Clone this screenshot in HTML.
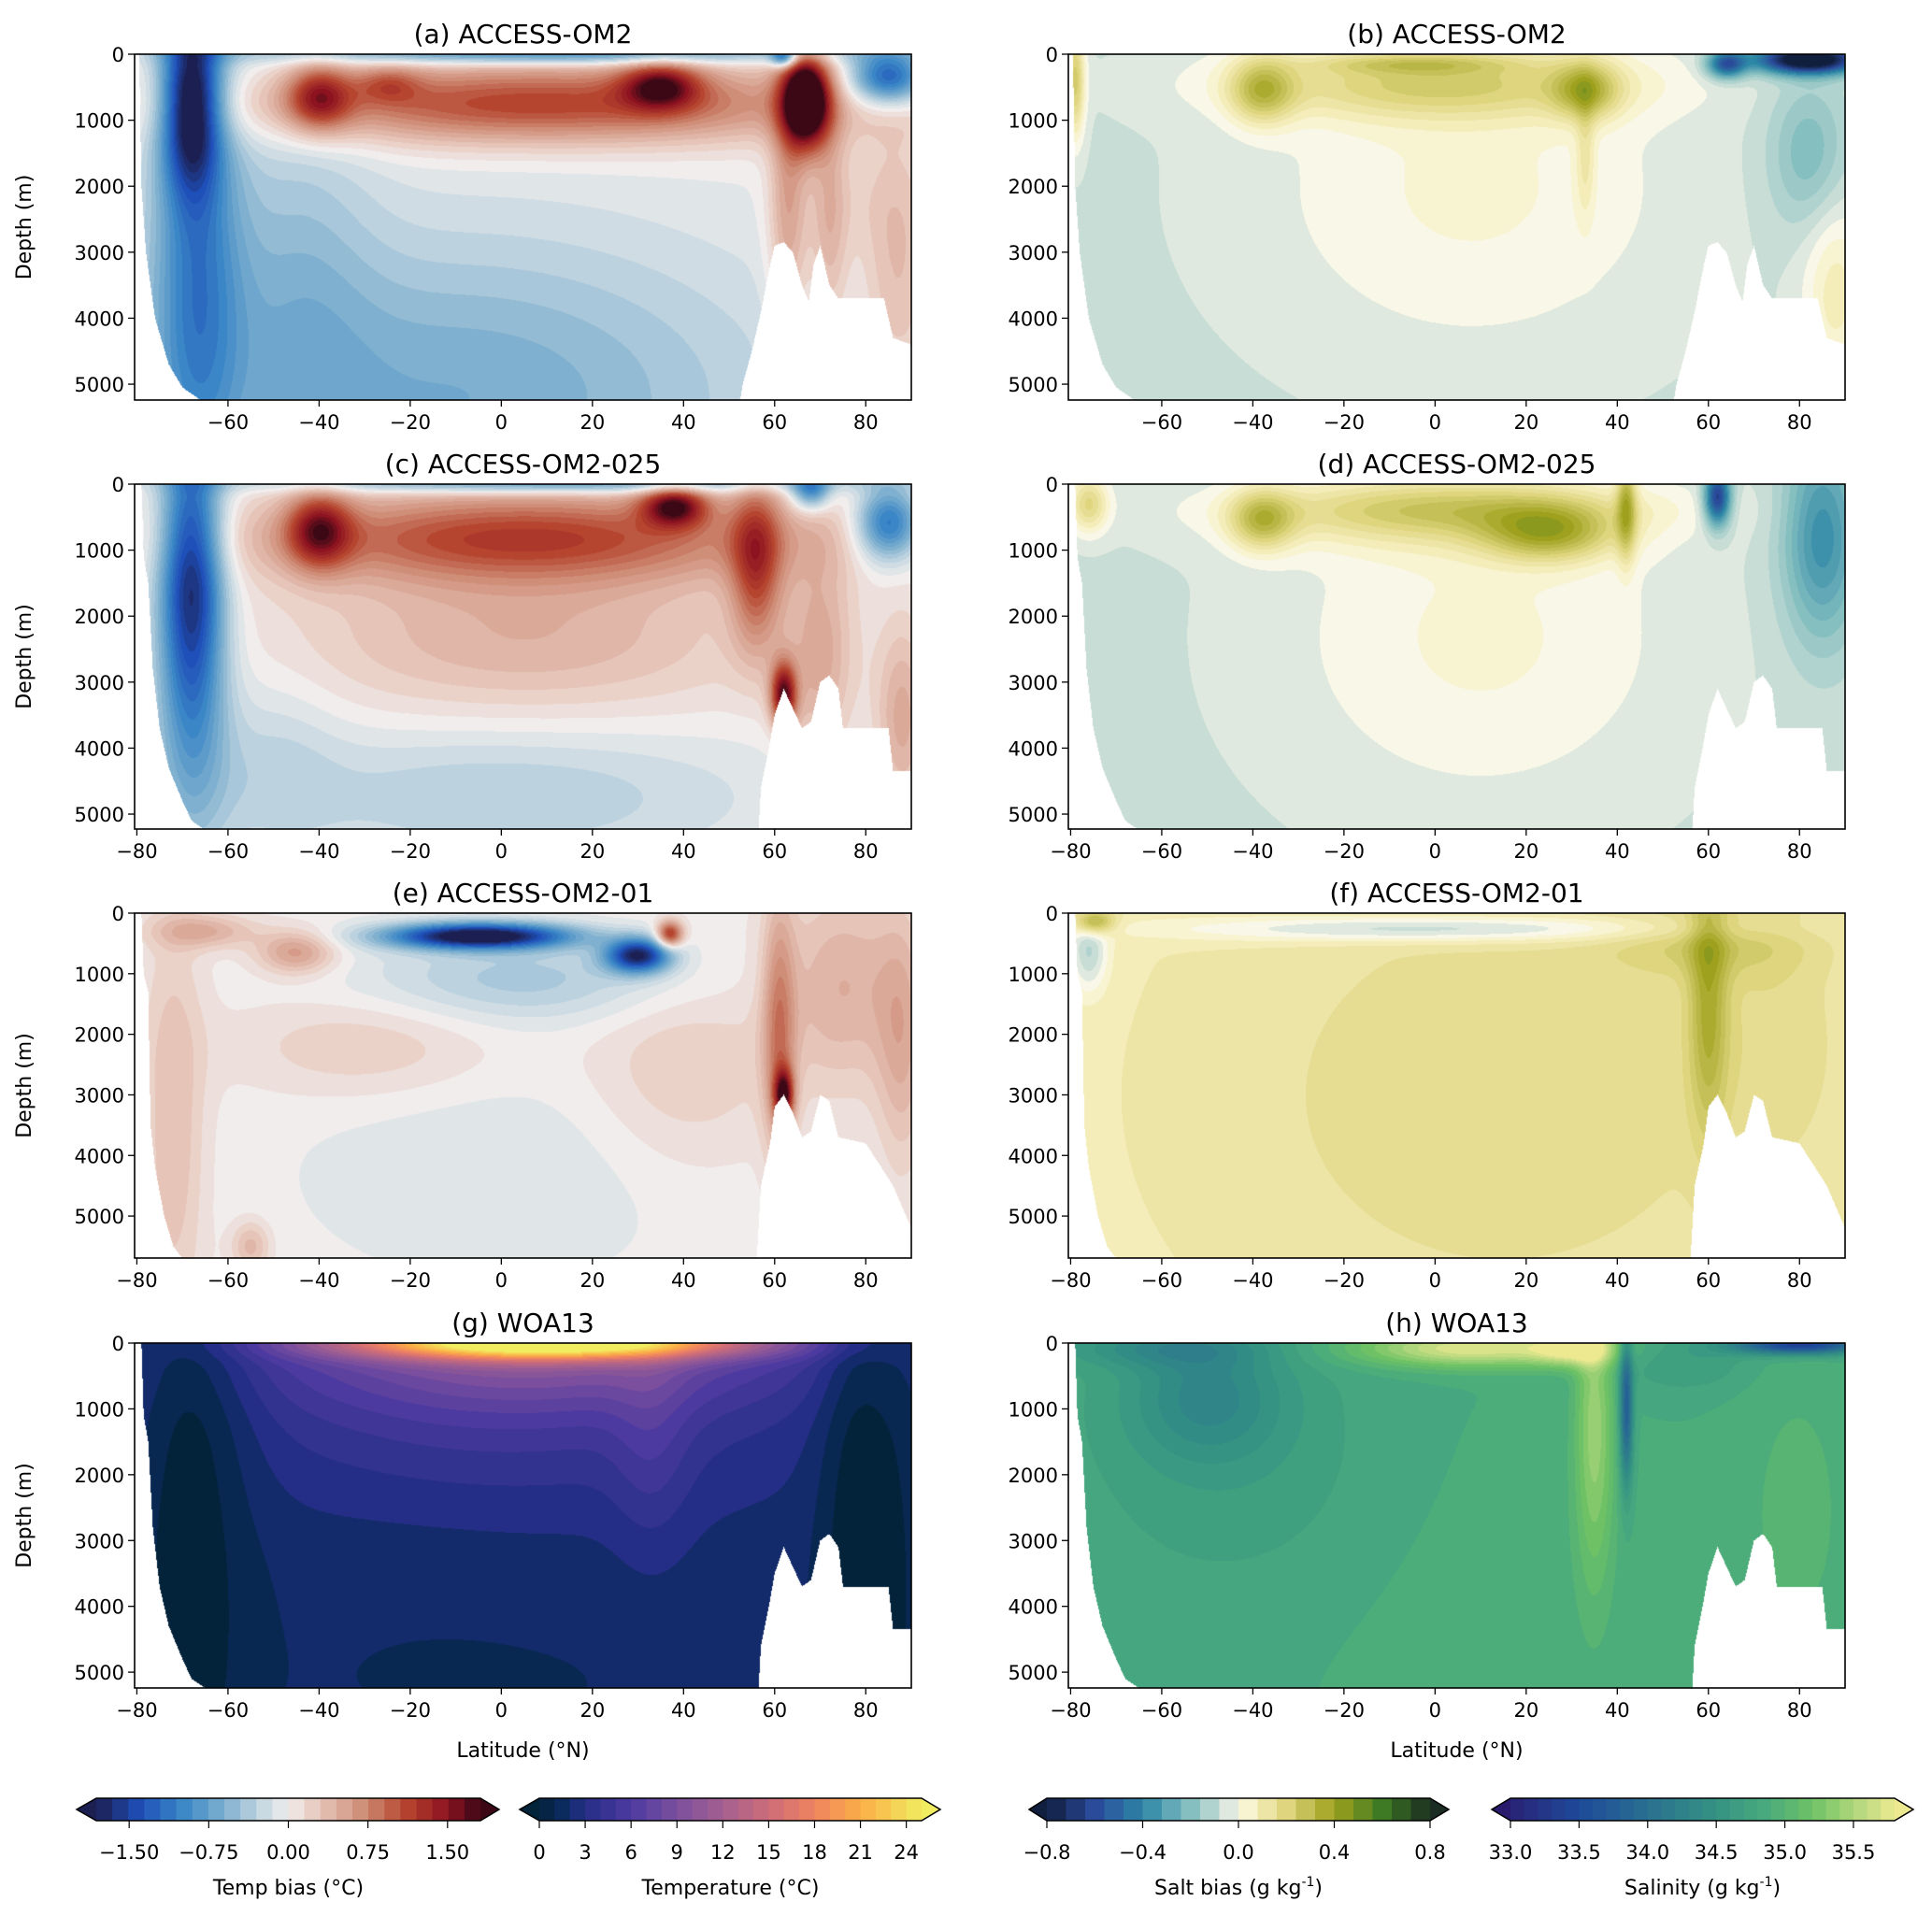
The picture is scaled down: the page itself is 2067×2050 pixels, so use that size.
<!DOCTYPE html>
<html><head><meta charset="utf-8">
<style>
html,body{margin:0;padding:0;background:#fff;}
body{width:2067px;height:2050px;position:relative;overflow:hidden;font-family:"DejaVu Sans","Liberation Sans",sans-serif;}
canvas{position:absolute;}
svg{position:absolute;left:0;top:0;}
</style></head>
<body>
<div id="root"></div>
<svg id="ov" width="2067" height="2050"></svg>
<script>
// ---------------- data ----------------
const panelTitles = ["(a) ACCESS-OM2","(b) ACCESS-OM2","(c) ACCESS-OM2-025","(d) ACCESS-OM2-025","(e) ACCESS-OM2-01","(f) ACCESS-OM2-01","(g) WOA13","(h) WOA13"];
const rowDepthMax = [5240,5226,5693,5240];
const latMin = -80.5, latMax = 90;
const latTicks = [-80,-60,-40,-20,0,20,40,60,80];
const depthTicks = [0,1000,2000,3000,4000,5000];
// bathymetry masks: [lat, bottom depth]
const maskA = [[-81,0],[-79.5,0],[-79,2000],[-78,3000],[-76,4000],[-73,4700],[-70,5050],[-66,5240],[-63,5400],[52,5400],[53,5000],[55,4500],[57,3900],[59,3200],[60,2900],[62,2850],[64,3000],[66,3500],[67.5,3750],[68.5,3200],[70,2900],[72,3500],[74,3700],[84,3700],[86,4300],[90,4400]];
const maskB = [[-81,0],[-79,0],[-78.5,1100],[-77.5,1500],[-76.5,2800],[-75,3700],[-73,4300],[-70,4800],[-68,5100],[-65,5240],[-64,5800],[56,5800],[57,4600],[59,3900],[60,3500],[62,3100],[64,3400],[66,3700],[68,3600],[70,3000],[72,2900],[74,3100],[75,3700],[85,3700],[86,4350],[90,4350]];
const maskE = [[-81,0],[-79,0],[-78.5,1000],[-77.5,1300],[-77,3500],[-76,4200],[-74,5000],[-72,5500],[-70,5700],[-60,5800],[56,5800],[57,4500],[59,3800],[60,3200],[62,3000],[64,3300],[66,3700],[68,3600],[70,3000],[72,3100],[74,3700],[80,3800],[86,4500],[90,5200]];
// blobs: [lat, depth, sigmaLat, sigmaDepth, amplitude]
const blobsA = [[-68,700,4.5,900,-1.6],[-67,3000,7,2600,-0.9],[-10,5200,50,1800,-0.65],[-45,3000,12,2000,-0.3],[8,750,45,420,1.15],[-40,650,5,350,1.1],[-25,450,5,200,0.5],[35,480,6,250,1.2],[67,700,3.5,500,2.2],[63,2300,3,1500,0.6],[72,2600,3,1300,0.45],[87,3400,6,1500,0.4],[85,350,6,300,-1.4],[62,40,2,120,-1.2],[10,0,40,110,-1.0],[80,2200,8,600,0.1]];
const blobsC = [[-68,1300,5,1500,-1.6],[-68,3800,6,1500,-0.5],[5,800,40,480,1.1],[-40,700,5,400,1.2],[38,330,5,220,1.4],[56,1200,4,900,1.0],[5,2300,35,900,0.45],[0,4700,40,800,-0.35],[-50,4200,10,1000,-0.2],[85,600,5,400,-1.2],[62,3200,2,350,1.6],[70,2600,5,1200,0.45],[88,3600,4,1000,0.5],[10,0,40,100,-0.9],[68,100,3,200,-1.0]];
const blobsE = [[-5,380,14,150,-2.0],[30,700,5,200,-1.7],[5,1100,25,500,-0.4],[-45,650,6,250,0.6],[-65,300,8,200,0.45],[37,350,2,150,1.3],[61,2000,2.5,1500,0.7],[62,3000,1.5,300,1.4],[75,1200,10,1200,0.45],[88,2200,4,1500,0.4],[-72,3500,5,2500,0.35],[-30,2200,20,600,0.25],[40,2600,15,1200,0.25],[0,4300,30,1200,-0.15],[-55,5500,3,300,0.4]];
const blobsG = [[10,0,30,170,20],[8,0,40,650,6],[0,700,45,1300,3.2],[-70,3000,7,5000,-1.9],[-60,4500,8,2000,-0.6],[-62,600,8,1500,-1.2],[78,2500,6,6000,-2.4],[88,2500,5,6000,-1.0],[33,1500,6,1200,1.8],[0,5200,30,600,-0.4],[-20,3800,30,1400,-0.3]];
const blobsB = [[8,2000,32,1800,0.1],[0,450,30,380,0.25],[-38,550,5,350,0.3],[33,550,5,300,0.3],[-5,150,15,100,0.15],[82,80,8,150,-0.9],[64,150,3,150,-0.5],[82,1500,6,800,-0.15],[-79,400,1.5,600,0.3],[88,3600,5,1000,0.15],[33,1500,1.5,700,0.12]];
const blobsD = [[10,2300,30,1800,0.1],[0,450,30,380,0.2],[-38,550,5,320,0.3],[25,750,10,300,0.32],[5,350,30,250,0.1],[42,300,1.5,600,0.3],[85,800,6,1100,-0.3],[62,200,2,300,-0.6],[-76,300,3,300,0.25]];
const blobsF = [[15,3000,40,2500,0.09],[60,1500,3,1500,0.22],[0,260,40,150,-0.2],[-76,600,3,500,-0.2],[-75,150,3,150,0.35],[60,500,15,400,0.12],[75,2000,10,1500,0.06]];
const blobsH = [[-50,800,12,700,-0.45],[-40,2000,25,1500,-0.15],[8,80,18,200,0.9],[30,80,6,180,0.7],[35,1200,3,1700,0.55],[42,1000,1,800,-1.1],[80,30,10,100,-1.5],[-60,80,15,200,-0.35],[80,2500,10,2000,0.15],[55,300,10,300,-0.2],[10,3500,40,2500,0.08]];
const baseVals = [0, -0.07, 0, -0.07, 0, 0.09, 1.9, 34.82];
// colorbar ticks
const cbTicks1 = [-1.5,-0.75,0,0.75,1.5], cbLab1 = ["−1.50","−0.75","0.00","0.75","1.50"];
const cbTicks2 = [0,3,6,9,12,15,18,21,24];
const cbTicks3 = [-0.8,-0.4,0,0.4,0.8], cbLab3 = ["−0.8","−0.4","0.0","0.4","0.8"];
const cbTicks4 = [33,33.5,34,34.5,35,35.5], cbLab4 = ["33.0","33.5","34.0","34.5","35.0","35.5"];

// ---------------- colormaps ----------------
function hx(c){return [parseInt(c.substr(1,2),16),parseInt(c.substr(3,2),16),parseInt(c.substr(5,2),16)];}
function mk(stops){const s=stops.map(a=>[a[0],hx(a[1])]);return v=>{if(v<=s[0][0])return s[0][1];for(let i=1;i<s.length;i++){if(v<=s[i][0]){const t=(v-s[i-1][0])/(s[i][0]-s[i-1][0]);const a=s[i-1][1],b=s[i][1];return [a[0]+(b[0]-a[0])*t,a[1]+(b[1]-a[1])*t,a[2]+(b[2]-a[2])*t];}}return s[s.length-1][1];};}
const cmBal = mk([[-1.8,'#1c1f52'],[-1.4,'#1f4fb8'],[-1.0,'#3a86c6'],[-0.6,'#7fb0cf'],[-0.25,'#c6d8e2'],[0,'#f1edec'],[0.3,'#e6c4b8'],[0.7,'#cf8e78'],[1.1,'#b6452f'],[1.5,'#8d1320'],[1.8,'#3c0816']]);
const cmThe = mk([[0,'#03233a'],[1.5,'#0b2a5e'],[3,'#252e86'],[6,'#4c3aa0'],[9,'#7b4f9e'],[12,'#a4608f'],[15,'#cd6c7a'],[18,'#ef8460'],[21,'#fbae47'],[25,'#f2ec60']]);
const cmDel = mk([[-0.8,'#111f3f'],[-0.6,'#2a4a9a'],[-0.4,'#2c86a6'],[-0.2,'#86bfc0'],[-0.06,'#d2e2da'],[0,'#f9f8e8'],[0.06,'#f7f1c4'],[0.2,'#dfd57e'],[0.4,'#9ea11d'],[0.6,'#3d7a23'],[0.8,'#1b2d22']]);
const cmHal = mk([[32.9,'#2a1a6e'],[33.5,'#1e4a9a'],[34,'#2a7090'],[34.5,'#349383'],[34.85,'#48a97e'],[35.2,'#6ec265'],[35.8,'#ede991']]);

// ---------------- layout ----------------
const colX = [[144,975],[1143,1974]];
const rowY = [[58,428],[518,887],[977,1346],[1437,1806]];
const NS='http://www.w3.org/2000/svg';
const ov=document.getElementById('ov');
const FF='DejaVu Sans, Liberation Sans, sans-serif';
function sv(tag,attrs,parent){const e=document.createElementNS(NS,tag);for(const k in attrs)e.setAttribute(k,attrs[k]);(parent||ov).appendChild(e);return e;}
function txt(x,y,s,size,anchor,parent){const t=sv('text',{x:x,y:y,'font-size':size,'text-anchor':anchor||'middle','font-family':FF,fill:'#000'},parent);t.textContent=s;return t;}
function interpMask(m,lat){if(lat<=m[0][0])return m[0][1];for(let i=1;i<m.length;i++){if(lat<=m[i][0]){const t=(lat-m[i-1][0])/(m[i][0]-m[i-1][0]);return m[i-1][1]+(m[i][1]-m[i-1][1])*t;}}return m[m.length-1][1];}

const panels=[
 {blobs:blobsA,mask:maskA,cm:cmBal,step:0.1,skip80:true},
 {blobs:blobsB,mask:maskA,cm:cmDel,step:0.04,skip80:true},
 {blobs:blobsC,mask:maskB,cm:cmBal,step:0.1},
 {blobs:blobsD,mask:maskB,cm:cmDel,step:0.04},
 {blobs:blobsE,mask:maskE,cm:cmBal,step:0.1},
 {blobs:blobsF,mask:maskE,cm:cmDel,step:0.04},
 {blobs:blobsG,mask:maskB,cm:cmThe,step:1},
 {blobs:blobsH,mask:maskB,cm:cmHal,step:0.1}
];
const names=['temp-bias-om2','salt-bias-om2','temp-bias-om2-025','salt-bias-om2-025','temp-bias-om2-01','salt-bias-om2-01','temperature-woa13','salinity-woa13'];

panels.forEach((p,i)=>{
  const r=Math.floor(i/2), c=i%2;
  const x0=colX[c][0],x1=colX[c][1],y0=rowY[r][0],y1=rowY[r][1];
  const dmax=rowDepthMax[r];
  const W=x1-x0,H=y1-y0;
  const xs=lat=>x0+(lat-latMin)/(latMax-latMin)*W;
  const ys=d=>y0+d/dmax*H;
  const cv=document.createElement('canvas');
  cv.width=W;cv.height=H;cv.style.left=x0+'px';cv.style.top=y0+'px';
  
  
  document.body.insertBefore(cv,ov);
  const ctx=cv.getContext('2d');const img=ctx.createImageData(W,H);const d=img.data;
  const bl=p.blobs;
  for(let px=0;px<W;px++){
    const lat=latMin+(px+0.5)/W*(latMax-latMin);
    const bot=interpMask(p.mask,lat);
    const gl=bl.map(b=>b[4]*Math.exp(-0.5*((lat-b[0])/b[2])**2));
    for(let py=0;py<H;py++){
      const dep=(py+0.5)/H*dmax;const k=(py*W+px)*4;
      if(dep>bot){d[k]=255;d[k+1]=255;d[k+2]=255;d[k+3]=255;continue;}
      let v=baseVals[i];
      for(let j=0;j<bl.length;j++){v+=gl[j]*Math.exp(-0.5*((dep-bl[j][1])/bl[j][3])**2);}
      v=Math.round(v/p.step)*p.step;
      const col=p.cm(v);d[k]=col[0];d[k+1]=col[1];d[k+2]=col[2];d[k+3]=255;
    }
  }
  ctx.putImageData(img,0,0);
  const g=sv('g',{});
  
  
  sv('rect',{x:x0,y:y0,width:W,height:H,fill:'none',stroke:'#000','stroke-width':1.6},g);
  const tt=txt((x0+x1)/2,y0-12,panelTitles[i],28,'middle',g);
  
  
  depthTicks.forEach(dv=>{const y=ys(dv);sv('line',{x1:x0-7,x2:x0,y1:y,y2:y,stroke:'#000','stroke-width':1.3},g);txt(x0-11,y+8,String(dv),21,'end',g);});
  latTicks.forEach(lv=>{if(p.skip80&&lv===-80)return;const x=xs(lv);sv('line',{x1:x,x2:x,y1:y1,y2:y1+7,stroke:'#000','stroke-width':1.3},g);txt(x,y1+31,(lv<0?'−':'')+Math.abs(lv),21,'middle',g);});
  if(c===0){const yl=txt(0,0,'Depth (m)',22,'middle',g);yl.setAttribute('transform','translate(33,'+((y0+y1)/2)+') rotate(-90)');}
  if(r===3){const xl=txt((x0+x1)/2,y1+74,'Latitude (°N)',22,'middle',g);}
});

// ---------------- colorbars ----------------
const cbs=[
 {tip0:82,b0:103,b1:514,tip1:534,vmin:-1.81,vmax:1.81,cm:cmBal,n:24,ticks:cbTicks1,labs:cbLab1,label:'Temp bias (°C)',name:'temp-bias-colorbar'},
 {tip0:556,b0:577,b1:986,tip1:1006,vmin:0,vmax:25,cm:cmThe,n:25,ticks:cbTicks2,labs:cbTicks2.map(String),label:'Temperature (°C)',name:'temperature-colorbar'},
 {tip0:1101,b0:1120,b1:1530,tip1:1550,vmin:-0.8,vmax:0.8,cm:cmDel,n:20,ticks:cbTicks3,labs:cbLab3,label:'Salt bias (g kg',name:'salt-bias-colorbar'},
 {tip0:1596,b0:1616,b1:2027,tip1:2047,vmin:33,vmax:35.8,cm:cmHal,n:28,ticks:cbTicks4,labs:cbLab4,label:'Salinity (g kg',name:'salinity-colorbar'}
];
const cy0=1924,cy1=1948;
cbs.forEach(cb=>{
  const g=sv('g',{});
  
  
  const xs=v=>cb.b0+(v-cb.vmin)/(cb.vmax-cb.vmin)*(cb.b1-cb.b0);
  const rgb=c=>'rgb('+c.map(Math.round).join(',')+')';
  const st=(cb.vmax-cb.vmin)/cb.n;
  for(let k=0;k<cb.n;k++){const v0=cb.vmin+k*st;sv('rect',{x:xs(v0),y:cy0,width:xs(v0+st)-xs(v0)+0.6,height:cy1-cy0,fill:rgb(cb.cm(v0+st/2))},g);}
  const ym=(cy0+cy1)/2;
  sv('polygon',{points:`${cb.b0},${cy0} ${cb.tip0},${ym} ${cb.b0},${cy1}`,fill:rgb(cb.cm(cb.vmin-1))},g);
  sv('polygon',{points:`${cb.b1},${cy0} ${cb.tip1},${ym} ${cb.b1},${cy1}`,fill:rgb(cb.cm(cb.vmax+1))},g);
  sv('polygon',{points:`${cb.b0},${cy0} ${cb.b1},${cy0} ${cb.tip1},${ym} ${cb.b1},${cy1} ${cb.b0},${cy1} ${cb.tip0},${ym}`,fill:'none',stroke:'#000','stroke-width':1.5},g);
  cb.ticks.forEach((t,k)=>{const x=xs(t);sv('line',{x1:x,x2:x,y1:cy1,y2:cy1+8,stroke:'#000','stroke-width':1.2},g);txt(x,1989,cb.labs[k],21,'middle',g);});
  const cx=(cb.b0+cb.b1)/2;
  const t=txt(cx,2027,cb.label,22,'middle',g);
  if(cb.label.indexOf('kg')>=0){const s=sv('tspan',{'font-size':14,dy:-9},t);s.textContent='-1';const s2=sv('tspan',{dy:9},t);s2.textContent=')';}
});
</script>
</body></html>
